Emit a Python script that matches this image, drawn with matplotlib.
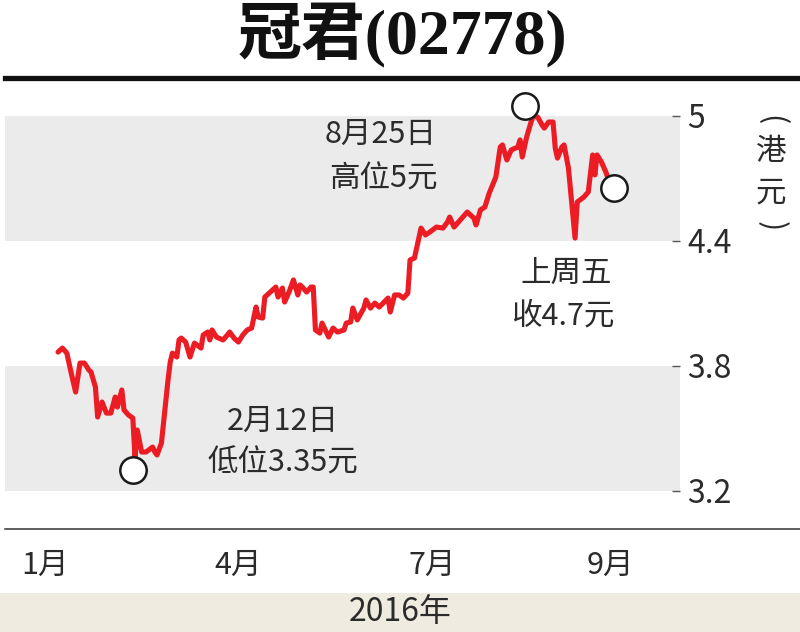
import matplotlib
matplotlib.use('Agg')
import matplotlib.pyplot as plt
from matplotlib.patches import Rectangle
from matplotlib.lines import Line2D
from matplotlib.transforms import offset_copy
import numpy as np

plt.rcParams['font.family'] = ['Noto Sans CJK TC', 'DejaVu Sans']

# price data (HKD), x = approx. day of 2016
days = [4, 6, 8, 10, 12, 14, 16, 18, 19, 21, 22, 24, 26, 28, 30, 31, 33, 34, 36, 38,
        39, 40, 42, 44, 47, 48, 49, 51, 54, 55, 56, 58, 59, 60, 62, 64, 66, 69, 70, 72,
        73, 74, 76, 79, 81, 82, 84, 86, 88, 90, 92, 94, 95, 97, 98, 100, 103, 104, 106, 107,
        109, 111, 113, 114, 115, 117, 119, 120, 121, 123, 124, 127, 129, 131, 134, 135, 137, 138, 140, 143,
        144, 146, 148, 150, 154, 155, 157, 159, 161, 163, 164, 166, 169, 171, 173, 176, 179, 181, 182, 184,
        186, 188, 190, 193, 194, 196, 198, 200, 203, 205, 206, 208, 210, 213, 214, 215, 217, 219, 220, 222,
        224, 225, 227, 229, 230, 231, 233, 234, 236, 238, 239, 240, 243, 245, 247, 248, 249, 251, 253, 254]
price = [3.867, 3.886, 3.862, 3.766, 3.675, 3.814, 3.814, 3.781, 3.771, 3.699, 3.555, 3.627, 3.574, 3.574, 3.651, 3.603, 3.685, 3.589, 3.565, 3.550,
         3.360, 3.493, 3.387, 3.387, 3.411, 3.387, 3.373, 3.430, 3.733, 3.819, 3.862, 3.843, 3.925, 3.934, 3.915, 3.843, 3.910, 3.886, 3.949, 3.963,
         3.925, 3.973, 3.939, 3.925, 3.949, 3.963, 3.934, 3.915, 3.949, 3.973, 3.982, 4.083, 4.035, 4.030, 4.131, 4.150, 4.179, 4.131, 4.174, 4.107,
         4.155, 4.213, 4.141, 4.189, 4.179, 4.155, 4.179, 4.179, 3.973, 3.958, 4.006, 3.939, 3.982, 3.963, 3.973, 4.006, 4.011, 4.078, 4.021, 4.078,
         4.117, 4.078, 4.102, 4.083, 4.126, 4.059, 4.141, 4.141, 4.126, 4.150, 4.309, 4.318, 4.462, 4.429, 4.443, 4.467, 4.462, 4.491, 4.515, 4.467,
         4.491, 4.515, 4.539, 4.510, 4.477, 4.549, 4.563, 4.630, 4.707, 4.851, 4.861, 4.789, 4.837, 4.851, 4.885, 4.803, 4.899, 4.971, 5.000, 4.995,
         4.957, 4.942, 4.971, 4.971, 4.846, 4.798, 4.851, 4.861, 4.750, 4.525, 4.414, 4.587, 4.611, 4.635, 4.813, 4.717, 4.813, 4.779, 4.731, 4.700]

y_ticks = [3.2, 3.8, 4.4, 5.0]
y_labels = ['3.2', '3.8', '4.4', '5']
bands = [(3.2, 3.8), (4.4, 5.0)]
month_pos = [-2, 86, 174, 255]
month_labels = ['1月', '4月', '7月', '9月']

red = '#EC1C24'
txt = '#2b2b2b'

fig = plt.figure(figsize=(8, 6.32), dpi=100)
W, H = 800, 632


def fx(px):
    return px / W


def fy(py):
    return 1 - py / H


ax = fig.add_axes([fx(5), fy(528), fx(680) - fx(5), fy(80) - fy(528)])
ax.set_xlim(-20.1, 286.7)
ax.set_ylim(3.0224, 5.1728)

for lo, hi in bands:
    ax.axhspan(lo, hi, color='#EBEBEC', lw=0, zorder=0)

ax.plot(days, price, color=red, lw=3.7, solid_joinstyle='round', solid_capstyle='round', zorder=3)

# circles at low / high / last
i_lo = int(np.argmin(price))
i_hi = int(np.argmax(price))
i_last = len(price) - 1
for i, dx, dy in [(i_lo, -1.4, -8.6), (i_hi, -5.8, 7.2), (i_last, 4.3, -6.5)]:
    tr = offset_copy(ax.transData, fig=fig, x=dx, y=dy, units='points')
    ax.plot(days[i], price[i], 'o', ms=19, mfc='white', mec='#1a1a1a', mew=1.8,
            transform=tr, zorder=4, clip_on=False)

for s in ax.spines.values():
    s.set_visible(False)
ax.yaxis.tick_right()
ax.set_yticks(y_ticks, y_labels)
ax.tick_params(axis='y', direction='in', length=6, width=1, color='#555',
               pad=5, labelsize=23, labelcolor=txt)
ax.set_xticks(month_pos, month_labels)
ax.tick_params(axis='x', length=0, pad=16, labelsize=22, labelcolor=txt)

# lines and bottom band
fig.add_artist(Line2D([fx(5), 1], [fy(78), fy(78)], color='#111', lw=3.8))
fig.add_artist(Line2D([fx(5), 1], [fy(529), fy(529)], color='#333', lw=1.1))
fig.patches.append(Rectangle((0, 0), 1, fy(593), transform=fig.transFigure,
                             facecolor='#EFEBE0', edgecolor='none', zorder=0))

fig.text(fx(400), fy(612), '2016年', ha='center', va='center', fontsize=23, color=txt)

# title
fig.text(fx(402), fy(36), '冠君(02778)', ha='center', va='center', fontsize=46,
         fontweight='bold', color='#111', family=['Liberation Serif', 'Noto Sans CJK TC'])

# unit label
fig.text(fx(771), fy(120), '(', rotation=270, ha='center', va='center', fontsize=22, color=txt)
fig.text(fx(771), fy(152), '港', ha='center', va='center', fontsize=22, color=txt)
fig.text(fx(771), fy(193), '元', ha='center', va='center', fontsize=22, color=txt)
fig.text(fx(771), fy(226), ')', rotation=270, ha='center', va='center', fontsize=22, color=txt)

# annotations
notes = [(381, 134, '8月25日'), (383, 179, '高位5元'),
         (566, 273, '上周五'), (563, 316, '收4.7元'),
         (283, 421, '2月12日'), (283, 463, '低位3.35元')]
for px, py, s in notes:
    fig.text(fx(px), fy(py), s, ha='center', va='center', fontsize=22, color=txt)

fig.savefig('out.png', dpi=100)
